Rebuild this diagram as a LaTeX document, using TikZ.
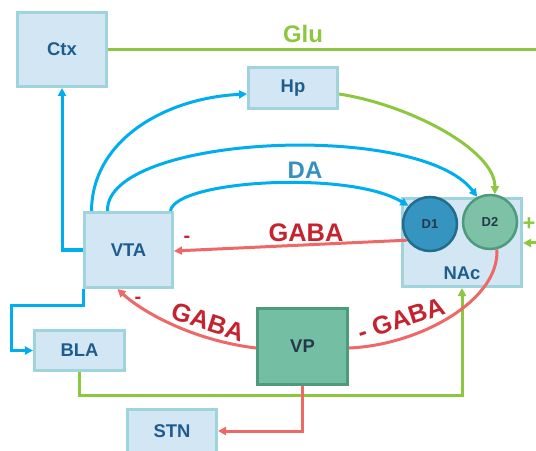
\documentclass[tikz,border=0pt]{standalone}
\usepackage{fontspec}
\setmainfont{Liberation Sans}
\usetikzlibrary{arrows.meta,calc}
\definecolor{boxfill}{HTML}{D2E6F4}
\definecolor{boxline}{HTML}{A0D4DC}
\definecolor{boxtext}{HTML}{1F5C8E}
\definecolor{cyanline}{HTML}{00AEEF}
\definecolor{gluline}{HTML}{8DC63F}
\definecolor{redline}{HTML}{EE6868}
\definecolor{gabatext}{HTML}{C4232F}
\definecolor{datext}{HTML}{3590C2}
\definecolor{vpfill}{HTML}{74BFA3}
\definecolor{vpline}{HTML}{4E9A7D}
\definecolor{vptext}{HTML}{24384A}
\definecolor{donefill}{HTML}{3594C0}
\definecolor{doneline}{HTML}{236C8E}
\definecolor{dtwofill}{HTML}{7DC2A6}
\begin{document}
\begin{tikzpicture}[x=1bp,y=-1bp,
  region/.style={draw=boxline, fill=boxfill, line width=3bp, inner sep=0pt,
    text=boxtext, font=\fontsize{18.5}{20}\selectfont\bfseries},
  vpbox/.style={region, draw=vpline, fill=vpfill, text=vptext},
  receptor/.style={circle, line width=2.5bp, inner sep=0pt, minimum size=54bp,
    text=vptext, font=\fontsize{13}{14}\selectfont\bfseries},
  tip/.style={-{Triangle[length=8bp,width=8bp]}},
  daline/.style={draw=cyanline, line width=3bp, tip},
  gluconn/.style={draw=gluline, line width=3bp},
  gabaconn/.style={draw=redline, line width=3bp},
  labeltext/.style={inner sep=0pt, font=\fontsize{24}{26}\selectfont\bfseries},
  gabalabel/.style={inner sep=0pt, text=gabatext, font=\fontsize{25.5}{27}\selectfont\bfseries},
  minus/.style={inner sep=0pt, text=gabatext, font=\fontsize{20}{20}\selectfont\bfseries},
]
\useasboundingbox (0,0) rectangle (536,451);

% regions
\node[region, minimum width=89bp, minimum height=74bp] (Ctx) at (62,49.5) {Ctx};
\node[region, minimum width=89bp, minimum height=41bp] (Hp) at (293,88) {Hp};
\node[region, minimum width=88bp, minimum height=75bp] (VTA) at (128.5,250) {VTA};
\node[region, minimum width=90bp, minimum height=40bp] (BLA) at (79.5,350.5) {BLA};
\node[region, minimum width=89bp, minimum height=43bp] (STN) at (172,431) {STN};
\node[vpbox, minimum width=90bp, minimum height=76bp] (VP) at (302.5,346.5) {VP};
\node[region, minimum width=119bp, minimum height=88bp] (NAc) at (462,242.5) {};
\node[inner sep=0pt, text=boxtext, font=\fontsize{18.5}{20}\selectfont\bfseries] (NAclabel) at (462,273) {NAc};
\node[receptor, draw=doneline, fill=donefill] (D1) at (430,224) {D1};
\node[receptor, draw=vpline, fill=dtwofill] (D2) at (490,222) {D2};

% free ends
\coordinate (gluend) at (537,50);
\coordinate (gin) at (537,243);

% glutamate
\draw[gluconn] (Ctx.east) -- (Ctx.east -| gluend);
\node[labeltext, text=gluline] (glu) at (303,34) {Glu};
\draw[gluconn, tip] ($(Hp.east)+(0,6)$) .. controls (410,105) and (495,150) .. (D2.80);
\draw[gluconn, tip] (BLA.south) -- ++(0,23.5) -| (NAc.south);
\draw[gluconn, tip] (gin) -- (gin -| NAc.east);
\node[inner sep=0pt, text=gluline, font=\fontsize{22}{22}\selectfont\bfseries] (plus) at (529,224) {+};

% dopamine
\draw[daline] (VTA.west) -| (Ctx.south);
\draw[daline] (VTA.south west) -- ++(0,16) -| ($(BLA.west)+(-21,0)$) -- (BLA.west);
\draw[daline] ($(VTA.north)+(-37,0)$) .. controls (92,140) and (165,98) .. ($(Hp.west)+(0,6)$);
\draw[daline] ($(VTA.north)+(-21,0)$) .. controls (105,135) and (420,120) .. (D2.117);
\draw[daline] ($(VTA.north)+(42,0)$) .. controls (175,180) and (350,170) .. (D1.140);
\node[labeltext, text=datext] (da) at (305,170) {DA};

% GABA
\draw[gabaconn, tip] (D1.215) -- ($(VTA.east)+(0,1)$);
\draw[gabaconn, tip] ($(VP.west)+(0,1.5)$) .. controls (190,340) and (140,310) .. ($(VTA.south)+(-11,0)$);
\draw[gabaconn] (D2.-76) .. controls (500,300) and (420,345) .. ($(VP.east)+(0,1.5)$);
\draw[gabaconn, tip] (VP.south) |- (STN.east);
\node[gabalabel] (g1) at (306,233) {GABA};
\node[gabalabel, rotate=-18] (g2) at (208,322) {GABA};
\node[gabalabel, rotate=18] (g3) at (401,319) {- GABA};
\node[minus] (m1) at (187,239) {-};
\node[minus] (m2) at (138,300) {-};
\end{tikzpicture}
\end{document}
